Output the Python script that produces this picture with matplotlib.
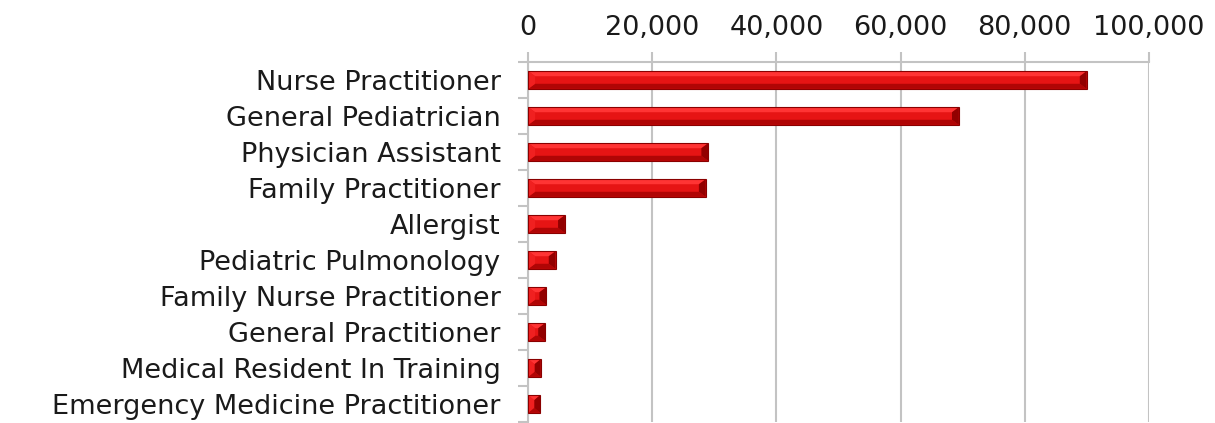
import matplotlib.pyplot as plt
from matplotlib.patches import Polygon
from matplotlib.ticker import FuncFormatter, MultipleLocator
import numpy as np

# data
roles = ["Nurse Practitioner", "General Pediatrician", "Physician Assistant",
         "Family Practitioner", "Allergist", "Pediatric Pulmonology",
         "Family Nurse Practitioner", "General Practitioner",
         "Medical Resident In Training", "Emergency Medicine Practitioner"]
counts = [90000, 69400, 29000, 28600, 5900, 4400, 2900, 2700, 2000, 1900]

grid_col = "#c3c3c3"
text_col = "#1a1a1a"

fig = plt.figure(figsize=(12.15, 4.23), dpi=100)
ax = fig.add_axes([0.4348, 0.0024, 0.5106, 0.851])

y = np.arange(len(roles))
h = 0.49
ax.barh(y, counts, height=h, color="#e61414", edgecolor="none", zorder=3)

# bevel facets built from each bar's own value
bx = 1100   # bevel width in data units
by = 0.14   # bevel height in category units
for yi, v in zip(y, counts):
    top, bot = yi - h / 2, yi + h / 2
    bxx = min(bx, v / 2)
    facets = [
        ([(0, top), (v, top), (v - bxx, top + by), (bxx, top + by)], "#ff3434"),
        ([(0, bot), (v, bot), (v - bxx, bot - by), (bxx, bot - by)], "#b00505"),
        ([(v, top), (v, bot), (v - bxx, bot - by), (v - bxx, top + by)], "#920000"),
        ([(0, top), (0, bot), (bxx, bot - by), (bxx, top + by)], "#f02020"),
    ]
    for pts, c in facets:
        ax.add_patch(Polygon(pts, closed=True, facecolor=c, edgecolor="none", zorder=4))
    ax.add_patch(Polygon([(0, top), (v, top), (v, bot), (0, bot)], closed=True,
                         facecolor="none", edgecolor="#8a0000", linewidth=0.8, zorder=5))

ax.set_xlim(0, 100000)
ax.set_ylim(len(roles) - 0.5, -0.5)

ax.xaxis.tick_top()
ax.xaxis.set_major_locator(MultipleLocator(20000))
ax.xaxis.set_major_formatter(FuncFormatter(lambda v, p: f"{int(v):,}"))
ax.tick_params(axis="x", which="major", length=7, width=1.5, color=grid_col,
               pad=8, labelsize=19.5, labelcolor=text_col)

ax.set_yticks(y)
ax.set_yticklabels(roles)
ax.set_yticks(np.arange(len(roles) + 1) - 0.5, minor=True)
ax.tick_params(axis="y", which="major", length=0, pad=20, labelsize=19.5,
               labelcolor=text_col)
ax.tick_params(axis="y", which="minor", length=7, width=1.5, color=grid_col)

ax.grid(axis="x", color=grid_col, linewidth=1.5, zorder=0)
ax.set_axisbelow(True)
for side in ["right", "bottom"]:
    ax.spines[side].set_visible(False)
for side in ["top", "left"]:
    ax.spines[side].set_color(grid_col)
    ax.spines[side].set_linewidth(1.5)

plt.savefig("out.png", dpi=100)
